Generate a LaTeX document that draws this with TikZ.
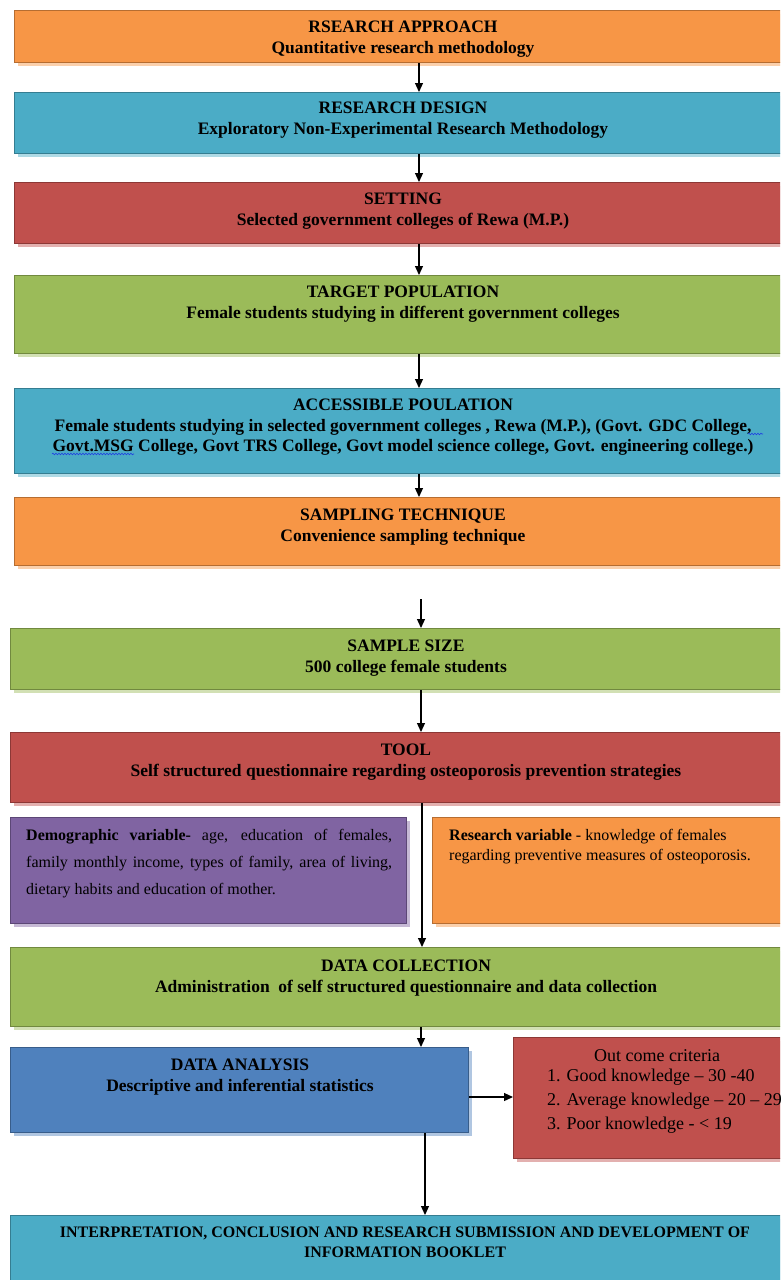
\documentclass[tikz,border=0pt]{standalone}
\usepackage{fontspec}
\setmainfont{Liberation Serif}
\usetikzlibrary{arrows.meta,calc,shadows,decorations.pathmorphing}
\definecolor{cOr}{HTML}{F79646}\definecolor{cOrD}{HTML}{B66D31}
\definecolor{cAq}{HTML}{4BACC6}\definecolor{cAqD}{HTML}{357D91}
\definecolor{cRe}{HTML}{C0504D}\definecolor{cReD}{HTML}{8C3836}
\definecolor{cGr}{HTML}{9BBB59}\definecolor{cGrD}{HTML}{71893F}
\definecolor{cPu}{HTML}{8064A2}\definecolor{cPuD}{HTML}{5C4776}
\definecolor{cBl}{HTML}{4F81BD}\definecolor{cBlD}{HTML}{385D8A}
\definecolor{cWave}{HTML}{2040E0}
\newcommand\fT{\fontsize{17.5}{20.5}\selectfont\bfseries}
\newcommand\fF{\fontsize{16}{20}\selectfont\bfseries}
\newcommand\fS{\fontsize{16}{27}\selectfont}
\newcommand\fR{\fontsize{16}{20}\selectfont}
\newcommand\fO{\fontsize{18}{24}\selectfont}
\tikzset{
  flowbox/.style 2 args={draw=#2, fill=#1, line width=1.1pt, rectangle, anchor=north west, inner sep=0pt,
     drop shadow={shadow xshift=3pt, shadow yshift=-3pt, fill=#1!45, opacity=1}},
  txt/.style={inner sep=0pt, align=center, anchor=north, text=black},
  arr/.style={line width=1.2pt, -{Triangle[length=9pt,width=8pt]}},
  wave/.style={draw=cWave, line width=0.6pt, decorate, decoration={snake, segment length=3pt, amplitude=0.8pt}},
}
\begin{document}
\begin{tikzpicture}[x=1pt,y=-1pt]
\useasboundingbox (0,0) rectangle (780,1280);
\clip (0,0) rectangle (780,1280);
% boxes
\node[flowbox={cOr}{cOrD}, minimum width=778pt, minimum height=52pt] (b1) at (14,10) {};
\node[flowbox={cAq}{cAqD}, minimum width=778pt, minimum height=61pt] (b2) at (14,92) {};
\node[flowbox={cRe}{cReD}, minimum width=778pt, minimum height=61pt] (b3) at (14,182) {};
\node[flowbox={cGr}{cGrD}, minimum width=778pt, minimum height=78pt] (b4) at (14,275) {};
\node[flowbox={cAq}{cAqD}, minimum width=778pt, minimum height=85pt] (b5) at (14,388) {};
\node[flowbox={cOr}{cOrD}, minimum width=778pt, minimum height=68pt] (b6) at (14,497) {};
\node[flowbox={cGr}{cGrD}, minimum width=792pt, minimum height=61pt] (b7) at (10,628) {};
\node[flowbox={cRe}{cReD}, minimum width=792pt, minimum height=70pt] (b8) at (10,732) {};
\node[flowbox={cPu}{cPuD}, minimum width=396pt, minimum height=106pt] (pv) at (10,817) {};
\node[flowbox={cOr}{cOrD}, minimum width=370pt, minimum height=106pt] (rv) at (432,817) {};
\node[flowbox={cGr}{cGrD}, minimum width=792pt, minimum height=79pt] (b9) at (10,947) {};
\node[flowbox={cBl}{cBlD}, minimum width=458pt, minimum height=85pt] (b10) at (10,1047) {};
\node[flowbox={cRe}{cReD}, minimum width=290pt, minimum height=121pt] (oc) at (513,1037) {};
\node[flowbox={cAq}{cAqD}, minimum width=792pt, minimum height=80pt] (b11) at (10,1215) {};
% texts
\node[txt, font=\fT] (t1) at (403,21) {RSEARCH APPROACH\\Quantitative research methodology};
\node[txt, font=\fT] (t2) at (403,102) {RESEARCH DESIGN\\Exploratory Non-Experimental Research Methodology};
\node[txt, font=\fT] (t3) at (403,193) {SETTING\\Selected government colleges of Rewa (M.P.)};
\node[txt, font=\fT] (t4) at (403,286) {TARGET POPULATION\\Female students studying in different government colleges};
\node[txt, font=\fT] (t5) at (403,399) {ACCESSIBLE POULATION\\Female students studying in selected government colleges , Rewa (M.P.), (Govt. GDC College,\\Govt.MSG College, Govt TRS College, Govt model science college, Govt. engineering college.)};
\node[txt, font=\fT] (t6) at (403,509) {SAMPLING TECHNIQUE\\Convenience sampling technique};
\node[txt, font=\fT] (t7) at (406,640) {SAMPLE SIZE\\500 college female students};
\node[txt, font=\fT] (t8) at (406,744) {TOOL\\Self structured questionnaire regarding osteoporosis prevention strategies};
\node[txt, font=\fS, align=justify, text width=366pt, anchor=north west] (tpv) at (26,829)
  {\textbf{Demographic variable-} age, education of females,\linebreak family monthly income, types of family, area of living,\linebreak dietary habits and education of mother.};
\node[txt, font=\fR, align=left, anchor=north west] (trv) at (449,829)
  {\textbf{Research variable} - knowledge of females\\regarding preventive measures of osteoporosis.};
\node[txt, font=\fT] (t9) at (406,960) {DATA COLLECTION\\Administration\ \ of self structured questionnaire and data collection};
\node[txt, font=\fT] (t10) at (240,1059) {DATA ANALYSIS\\Descriptive and inferential statistics};
\node[txt, font=\fO] (toc) at (657,1049) {Out come criteria};
\node[txt, font=\fO, align=left, anchor=north west] (tocl) at (547,1069)
  {1. Good knowledge -- 30 -40\\2. Average knowledge -- 20 -- 29\\3. Poor knowledge - < 19};
\node[txt, font=\fF] (t11) at (405,1227) {INTERPRETATION, CONCLUSION AND RESEARCH SUBMISSION AND DEVELOPMENT OF\\INFORMATION BOOKLET};
% spell-check marks
\coordinate (w1a) at (52,454); \coordinate (w1b) at (134,454);
\coordinate (w2a) at (748,434); \coordinate (w2b) at (763,434);
\path[wave] (w1a) -- (w1b);
\path[wave] (w2a) -- (w2b);
% connectors
\coordinate (xa) at (419,0);
\coordinate (xb) at (421,0);
\coordinate (xc) at (422,0);
\coordinate (xd) at (425,0);
\coordinate (yo) at (0,1097);
\draw[arr] (xa |- b1.south) -- (xa |- b2.north);
\draw[arr] (xa |- b2.south) -- (xa |- b3.north);
\draw[arr] (xa |- b3.south) -- (xa |- b4.north);
\draw[arr] (xa |- b4.south) -- (xa |- b5.north);
\draw[arr] (xa |- b5.south) -- (xa |- b6.north);
\draw[arr] ($(xb |- b6.south)+(0,33)$) -- (xb |- b7.north);
\draw[arr] (xb |- b7.south) -- (xb |- b8.north);
\draw[arr] (xc |- b8.south) -- (xc |- b9.north);
\draw[arr] (xb |- b9.south) -- (xb |- b10.north);
\draw[arr] (b10.east |- yo) -- (oc.west |- yo);
\draw[arr] (xd |- b10.south) -- (xd |- b11.north);
\end{tikzpicture}
\end{document}
